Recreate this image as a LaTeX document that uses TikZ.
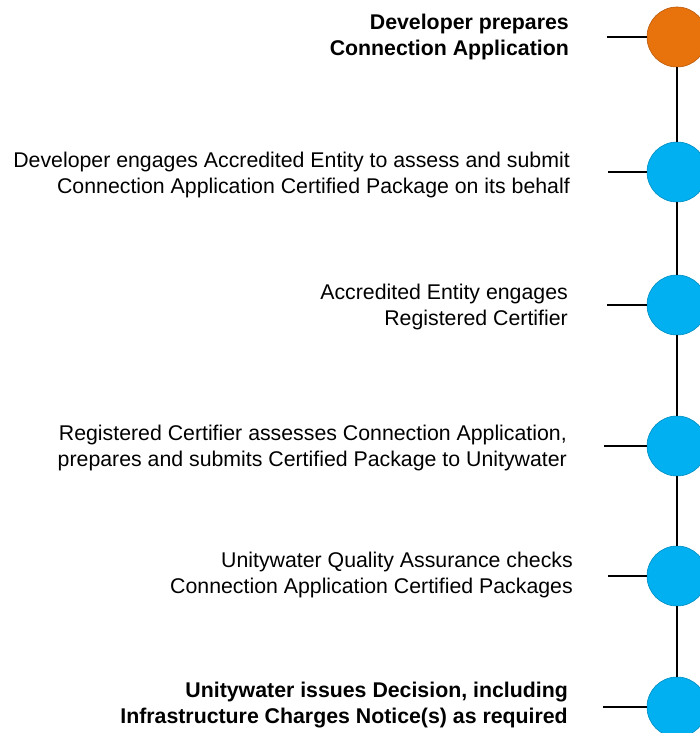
\documentclass[tikz,border=0pt]{standalone}
\usepackage{fontspec}
\setmainfont{Liberation Sans}
\definecolor{startorange}{RGB}{232,114,12}
\definecolor{stepblue}{RGB}{0,176,240}

\begin{document}
\begin{tikzpicture}[x=1pt,y=-1pt,
		dot/.style={circle,minimum size=60pt,inner sep=0pt,draw=#1!80!black,line width=0.6pt,fill=#1},
		txt/.style={anchor=east,align=right,inner sep=0pt,font=\fontsize{21.3}{26}\selectfont},
		rail/.style={line width=2.4pt,black}]
		\useasboundingbox (0,0) rectangle (699,733);

		\node (c1) at (677,37) [dot=startorange] {};
		\node (c2) at (677,172) [dot=stepblue] {};
		\node (c3) at (677,305) [dot=stepblue] {};
		\node (c4) at (677,446) [dot=stepblue] {};
		\node (c5) at (677,576) [dot=stepblue] {};
		\node (c6) at (677,707) [dot=stepblue] {};

		\coordinate (s1) at (607,37);
		\coordinate (s2) at (608,172);
		\coordinate (s3) at (607,305);
		\coordinate (s4) at (604,446);
		\coordinate (s5) at (608,576);
		\coordinate (s6) at (603,707);

		\node (t1) at (569,37) [txt] {\bfseries Developer prepares\\\bfseries Connection Application};
		\node (t2) at (570,175) [txt] {Developer engages Accredited Entity to assess and submit\\Connection Application Certified Package on its behalf};
		\node (t3) at (568,307) [txt] {Accredited Entity engages\\Registered Certifier};
		\node (t4) at (567,448) [txt] {Registered Certifier assesses Connection Application,\\prepares and submits Certified Package to Unitywater};
		\node (t5) at (573,575) [txt] {Unitywater Quality Assurance checks\\Connection Application Certified Packages};
		\node (t6) at (568,705) [txt] {\bfseries Unitywater issues Decision, including\\\bfseries Infrastructure Charges Notice(s) as required};

		\foreach \a/\b in {c1/c2,c2/c3,c3/c4,c4/c5,c5/c6}
			\draw [rail] (\a) -- (\b);
		\foreach \i in {1,...,6}
			\draw [rail] (s\i) -- (c\i);
	\end{tikzpicture}
\end{document}
